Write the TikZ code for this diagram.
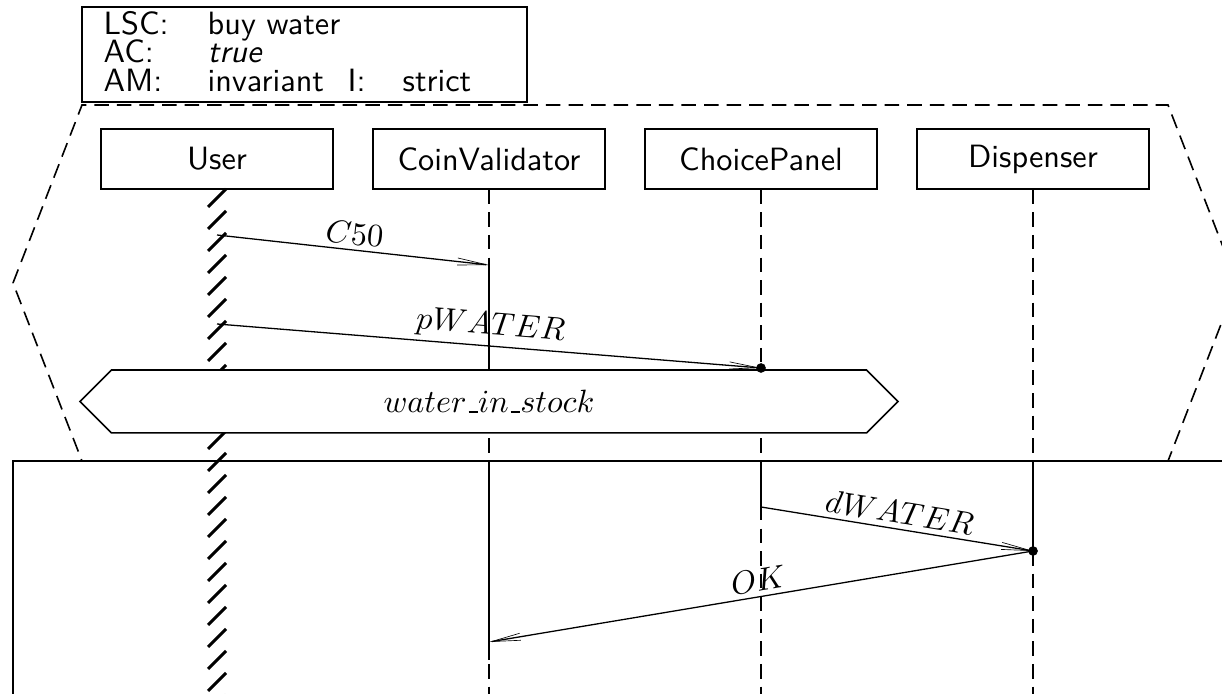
\documentclass[tikz,border=0pt]{standalone}
\usepackage{amsmath}
\usetikzlibrary{arrows.meta,shapes.symbols}

% short underscore for condition names
\newcommand{\uscore}{\kern.06em\vbox{\hrule width.3em}}

\tikzset{
  inst/.style={draw, line width=0.5pt, minimum width=71.9pt, minimum height=18.6pt, inner sep=0pt, font=\sffamily},
  htext/.style={anchor=base west, inner sep=0pt, font=\sffamily},
  cold/.style={dash pattern=on 4.5pt off 2.5pt},
  msg/.style={->, >={Straight Barb[length=9pt,width=2.2pt,line width=0.2pt]}},
  lbl/.style={sloped, above, inner sep=1.5pt}
}

\begin{document}
\begin{tikzpicture}[x=0.31pt, y=-0.31pt]
\useasboundingbox (0,0) rectangle (1222,694);
\clip (0,0) rectangle (1222,694);

% chart header
\node[draw, line width=0.5pt, minimum width=138pt, minimum height=29.5pt] (head) at (304.5,54.5) {};
\node[htext] (lsc) at (103,35) {LSC:};
\node[htext] (lscval) at (207,35) {buy water};
\node[htext] (ac) at (103,63) {AC:};
\node[htext] (acval) at (207,63) {\textsl{true}};
\node[htext] (am) at (103,92) {AM:};
\node[htext] (amval) at (207,92) {invariant};
\node[htext] (iso) at (347,92) {I:};
\node[htext] (isoval) at (402,92) {strict};

% prechart and main chart
\draw[cold, line width=0.5pt] (13,283) -- (82,105) -- (1168,105) -- (1237,283) -- (1168,461) -- (82,461) -- cycle;
\coordinate (mc) at (13,461);
\draw[line width=0.5pt] (13,800) -- (mc) -- (1300,461);

% instances
\node[inst] (user) at (217,159) {User};
\node[inst] (coin) at (489,159) {CoinValidator};
\node[inst] (choice) at (761,159) {ChoicePanel};
\node[inst] (disp) at (1033,159) {Dispenser};

% locations on the lifelines
\coordinate (u1) at (217,235);
\coordinate (v1) at (489,265);
\coordinate (u2) at (217,324);
\coordinate (p1) at (761,368);
\coordinate (p2) at (761,507);
\coordinate (d1) at (1033,551);
\coordinate (v2) at (489,642);
\coordinate (v3) at (489,660);

% lifelines
\foreach \y in {189,211,...,700}
  \draw[line width=0.9pt] (208,\y+18) -- (226,\y);
\draw[cold] (coin.south) -- (489,700);
\draw[cold] (choice.south) -- (761,700);
\draw[cold] (disp.south) -- (1033,700);
\draw (v1) -- (489,370);
\draw (coin |- mc) -- (v3);
\draw (choice |- mc) -- (p2);
\draw (disp |- mc) -- (d1);

% condition
\node[draw, fill=white, line width=0.5pt, signal, signal to=west and east, signal pointer angle=90,
      minimum width=253.6pt, minimum height=19.5pt, inner sep=0pt] (stock) at (489,401.5)
{$water\uscore in\uscore stock$};

% messages
\draw[msg] (u1) -- node[lbl] {$C50$} (v1);
\draw[msg] (u2) -- node[lbl] {$pWATER$} (p1);
\fill (p1) circle (1.5pt);
\draw[msg] (p2) -- node[lbl] {$dWATER$} (d1);
\fill (d1) circle (1.5pt);
\draw[msg] (d1) -- node[lbl] {$OK$} (v2);
\end{tikzpicture}
\end{document}
